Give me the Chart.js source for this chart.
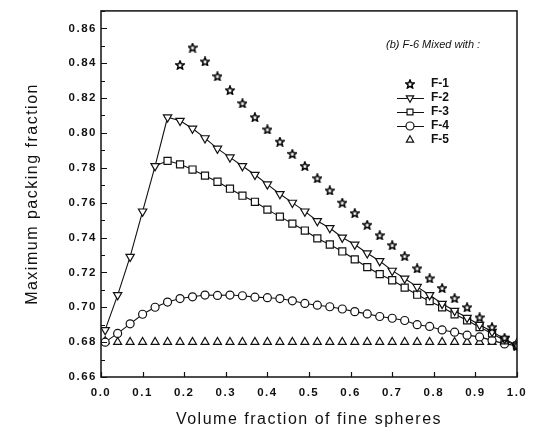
<!DOCTYPE html>
<html>
<head>
<meta charset="utf-8">
<script src="https://cdn.jsdelivr.net/npm/chart.js@4/dist/chart.umd.min.js"></script>
<style>
html,body{margin:0;padding:0;background:#fff;}
#wrap{width:534px;height:437px;}
</style>
</head>
<body>
<div id="wrap"><canvas id="c" width="534" height="437"></canvas></div>
<script>
// ---- data ----
const xAll = [0.01,0.04,0.07,0.10,0.13,0.16,0.19,0.22,0.25,0.28,0.31,0.34,0.37,0.40,0.43,0.46,0.49,0.52,0.55,0.58,0.61,0.64,0.67,0.70,0.73,0.76,0.79,0.82,0.85,0.88,0.91,0.94,0.97,1.00];
const xF1 = xAll.slice(6);   // starts at 0.19
const xF3 = xAll.slice(4);   // starts at 0.13
const seriesNames = ["F-1","F-2","F-3","F-4","F-5"];
const f1 = [0.839,0.849,0.841,0.8325,0.8245,0.817,0.809,0.802,0.795,0.788,0.781,0.774,0.767,0.760,0.754,0.7473,0.7413,0.7356,0.7293,0.7223,0.7166,0.711,0.7052,0.700,0.6942,0.6886,0.6825,0.678];
const f2 = [0.687,0.707,0.729,0.755,0.781,0.809,0.807,0.8025,0.797,0.791,0.786,0.781,0.776,0.7705,0.765,0.760,0.755,0.7495,0.7455,0.740,0.736,0.731,0.7265,0.721,0.7165,0.7117,0.707,0.702,0.698,0.694,0.690,0.686,0.682,0.678];
const f3 = [0.781,0.784,0.782,0.779,0.7755,0.772,0.768,0.764,0.7605,0.756,0.752,0.748,0.744,0.7395,0.736,0.732,0.7275,0.723,0.719,0.7155,0.7113,0.7072,0.7035,0.700,0.696,0.6925,0.6886,0.685,0.681,0.678];
const f4 = [0.680,0.685,0.6905,0.696,0.700,0.703,0.705,0.706,0.707,0.7068,0.707,0.7066,0.7058,0.7055,0.705,0.7037,0.7022,0.7012,0.7003,0.699,0.6975,0.6962,0.6947,0.6937,0.6924,0.690,0.689,0.687,0.6857,0.684,0.683,0.681,0.679,0.678];
const f5 = [0.6805,0.680,0.680,0.680,0.680,0.680,0.680,0.680,0.680,0.680,0.680,0.680,0.680,0.680,0.680,0.680,0.680,0.680,0.680,0.680,0.680,0.680,0.680,0.680,0.680,0.680,0.680,0.680,0.680,0.680,0.680,0.680,0.680,0.6795];
const xTitle = "Volume fraction of fine spheres";
const yTitle = "Maximum packing fraction";
const legendTitle = "(b) F-6 Mixed with :";

// ---- helpers ----
function pts(xs, ys){ return ys.map((y,i)=>({x:xs[i], y:y})); }
function starImage(){
  const c = document.createElement('canvas');
  c.width = 10; c.height = 10;
  const g = c.getContext('2d');
  g.beginPath();
  for(let i=0;i<10;i++){
    const r = (i%2===0) ? 4.4 : 2.0;
    const a = -Math.PI/2 + i*Math.PI/5;
    const px = 5 + r*Math.cos(a), py = 5.4 + r*Math.sin(a);
    if(i===0) g.moveTo(px,py); else g.lineTo(px,py);
  }
  g.closePath();
  g.fillStyle = '#fff'; g.fill();
  g.lineWidth = 1.5; g.strokeStyle = '#000'; g.stroke();
  return c;
}
const STAR = starImage();
const INK = '#111';
const FONT = '"Liberation Sans", Arial, sans-serif';

const common = {borderColor: INK, backgroundColor:'#fff', pointBorderColor: INK, pointBackgroundColor:'#fff', borderWidth:1.1, pointBorderWidth:1.2};

const datasets = [
  Object.assign({}, common, {label: seriesNames[0], data: pts(xF1, f1), showLine:false, pointStyle: STAR, pointRadius:5}),
  Object.assign({}, common, {label: seriesNames[1], data: pts(xAll, f2), showLine:true, pointStyle:'triangle', rotation:180, pointRadius:4.8}),
  Object.assign({}, common, {label: seriesNames[2], data: pts(xF3, f3), showLine:true, pointStyle:'rect', pointRadius:(c)=> c.dataIndex===0 ? 0 : 5}),
  Object.assign({}, common, {label: seriesNames[3], data: pts(xAll, f4), showLine:true, pointStyle:'circle', pointRadius:4}),
  Object.assign({}, common, {label: seriesNames[4], data: pts(xAll, f5), showLine:false, pointStyle:'triangle', pointRadius:4.6})
];

const spacingPlugin = {
  id:'spacing',
  beforeDraw(chart){ chart.ctx.letterSpacing = '1.5px'; },
  afterDraw(chart){ chart.ctx.letterSpacing = '0px'; }
};

const framePlugin = {
  id:'frame',
  afterDatasetsDraw(chart){
    const ctx = chart.ctx, a = chart.chartArea;
    const xs = chart.scales.x, ys = chart.scales.y;
    ctx.save();
    ctx.strokeStyle = INK; ctx.lineWidth = 1.5;
    ctx.strokeRect(a.left, a.top, a.right-a.left, a.bottom-a.top);
    ctx.lineWidth = 1.2;
    ctx.beginPath();
    xs.ticks.forEach(t=>{
      const p = Math.round(xs.getPixelForValue(t.value))+0.5;
      ctx.moveTo(p, a.bottom); ctx.lineTo(p, a.bottom-5);
    });
    ys.ticks.forEach(t=>{
      const p = Math.round(ys.getPixelForValue(t.value))+0.5;
      const major = Math.round(t.value*100)%2===0;
      ctx.moveTo(a.left, p); ctx.lineTo(a.left + (major?6:4), p);
    });
    ctx.stroke();
    ctx.restore();
  }
};

const legendPlugin = {
  id:'customLegend',
  afterDatasetsDraw(chart){
    const ctx = chart.ctx;
    const H = Chart.helpers;
    ctx.save();
    ctx.letterSpacing = '0px';
    ctx.fillStyle = INK;
    ctx.textBaseline = 'middle';
    ctx.textAlign = 'left';
    ctx.font = 'italic 11px ' + FONT;
    ctx.fillText(legendTitle, 386, 45);
    const rows = [84, 98, 112, 126, 140];
    const mx = 410;
    chart.data.datasets.forEach((ds, i)=>{
      const y = rows[i];
      if(ds.showLine){
        ctx.strokeStyle = INK; ctx.lineWidth = 1;
        ctx.beginPath(); ctx.moveTo(397, y+0.5); ctx.lineTo(424, y+0.5); ctx.stroke();
      }
      const r = (typeof ds.pointRadius === 'function') ? 4.2 : Math.min(ds.pointRadius, 4.2);
      const opts = {pointStyle: ds.pointStyle, rotation: ds.rotation||0, radius: r, borderWidth: ds.pointBorderWidth};
      ctx.fillStyle = '#fff'; ctx.strokeStyle = INK; ctx.lineWidth = ds.pointBorderWidth;
      if(H && H.drawPoint){ H.drawPoint(ctx, opts, mx, y); }
      ctx.fillStyle = INK;
      ctx.font = 'bold 12px ' + FONT;
      ctx.fillText(ds.label, 431, y);
    });
    ctx.restore();
  }
};

new Chart(document.getElementById('c'), {
  type:'scatter',
  data:{datasets},
  options:{
    responsive:false,
    animation:false,
    events:[],
    layout:{padding:{top:7, right:12, left:0, bottom:0}},
    plugins:{legend:{display:false}, tooltip:{enabled:false}},
    scales:{
      x:{
        type:'linear', min:0, max:1,
        afterFit(s){ s.height = 60; },
        grid:{display:false, drawTicks:false},
        border:{display:false},
        ticks:{stepSize:0.1, autoSkip:false, maxRotation:0, padding:9, color:INK,
          font:{family:FONT, size:11.5, weight:'bold'},
          callback:(v)=> v.toFixed(1)},
        title:{display:true, text:xTitle, color:INK, padding:{top:8,bottom:8},
          font:{family:FONT, size:16}}
      },
      y:{
        type:'linear', min:0.66, max:0.87,
        afterFit(s){ s.width = 101; },
        grid:{display:false, drawTicks:false},
        border:{display:false},
        ticks:{stepSize:0.01, autoSkip:false, padding:4, color:INK,
          font:{family:FONT, size:11.5, weight:'bold'},
          callback:(v)=> (Math.round(v*100)%2===0) ? v.toFixed(2) : ''},
        title:{display:true, text:yTitle, color:INK, padding:{top:23,bottom:23},
          font:{family:FONT, size:16}}
      }
    }
  },
  plugins:[spacingPlugin, framePlugin, legendPlugin]
});
</script>
</body>
</html>
